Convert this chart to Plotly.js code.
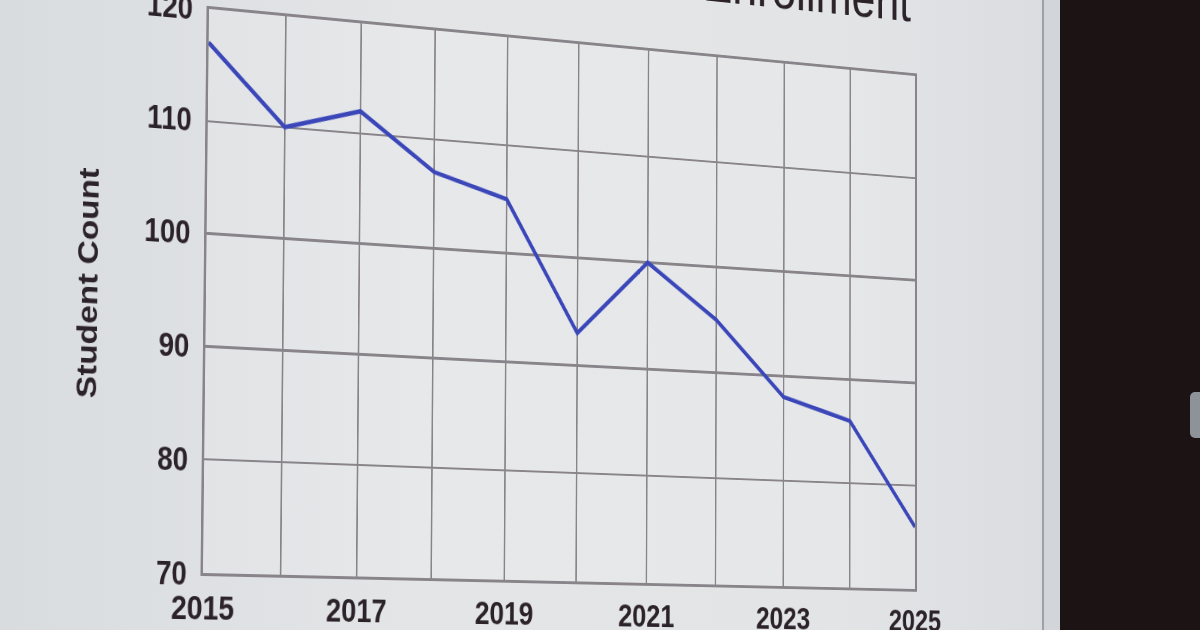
<!DOCTYPE html>
<html>
<head>
<meta charset="utf-8">
<script src="https://cdn.plot.ly/plotly-3.0.1.min.js"></script>
<style>
  html, body { margin:0; padding:0; width:1200px; height:630px; overflow:hidden; }
  body { position:relative; background:linear-gradient(to right, #d9dcdf 0%, #e3e5e7 35%, #e2e4e6 70%, #d5d8dc 100%); }
  #screenEdge { position:absolute; left:1042px; top:0; width:2px; height:630px; background:#9ea1a6; }
  #strip { position:absolute; left:1044px; top:0; width:16px; height:630px; background:#d2d6da; }
  #dark { position:absolute; left:1060px; top:0; width:140px; height:630px; background:#1b1314; }
  #tab { position:absolute; left:1190px; top:392px; width:20px; height:46px; border-radius:5px; background:#8e939a; }
  #chart { position:absolute; left:0; top:0; transform-origin:0 0; }
</style>
</head>
<body>
<div id="screenEdge"></div>
<div id="strip"></div>
<div id="dark"></div>
<div id="tab"></div>
<div id="chart"></div>
<script>
// ---- data ----
const years = [2015, 2016, 2017, 2018, 2019, 2020, 2021, 2022, 2023, 2024, 2025];
const studentCount = [117, 110, 112, 107, 105, 93, 100, 95, 88, 86, 76];
const xTickLabels = ['2015', '', '2017', '', '2019', '', '2021', '', '2023', '', '2025'];
const yTicks = [70, 80, 90, 100, 110, 120];
const chartTitle = 'Student Enrollment';
const yTitle = 'Student Count';

// ---- flat chart geometry ----
const W = 1300, H = 790;
const M = {l: 210, r: 150, t: 120, b: 106};
const plotL = M.l, plotR = W - M.r, plotT = M.t, plotB = H - M.b;

const ink = '#2b2329';
const grid = '#88848a';

const trace = {
  x: years, y: studentCount, type: 'scatter', mode: 'lines',
  line: {color: '#3b47b9', width: 4.5},
  hoverinfo: 'skip'
};

const layout = {
  width: W, height: H,
  margin: M,
  paper_bgcolor: 'rgba(0,0,0,0)',
  plot_bgcolor: 'rgba(255,255,255,0.12)',
  showlegend: false,
  title: {
    text: chartTitle,
    font: {family: 'Liberation Sans, Arial, sans-serif', size: 62, color: ink},
    xref: 'paper', x: 1, xanchor: 'right',
    yref: 'paper', y: 1, yanchor: 'bottom',
    pad: {b: 60, r: 6}
  },
  xaxis: {
    range: [2015, 2025],
    tickvals: years, ticktext: xTickLabels,
    showgrid: true, gridcolor: grid, gridwidth: 2.3,
    showline: true, linecolor: grid, linewidth: 2.8, mirror: true,
    zeroline: false, ticks: '', ticklabelstandoff: 2,
    tickfont: {family: 'Liberation Sans, Arial, sans-serif', size: 34, color: ink, weight: 'bold'}
  },
  yaxis: {
    range: [70, 120],
    tickvals: yTicks,
    showgrid: true, gridcolor: grid, gridwidth: 2.3,
    showline: true, linecolor: grid, linewidth: 2.8, mirror: true,
    zeroline: false, ticks: '', ticklabelstandoff: 10,
    tickfont: {family: 'Liberation Sans, Arial, sans-serif', size: 33, color: ink, weight: 'bold'},
    title: {
      text: yTitle, standoff: 44,
      font: {family: 'Liberation Sans, Arial, sans-serif', size: 33, color: ink, weight: 'bold'}
    }
  }
};

// ---- perspective (projected-screen photo) ----
function solve(A, b) {
  const n = b.length;
  for (let i = 0; i < n; i++) A[i] = A[i].concat([b[i]]);
  for (let c = 0; c < n; c++) {
    let p = c;
    for (let r = c + 1; r < n; r++) if (Math.abs(A[r][c]) > Math.abs(A[p][c])) p = r;
    [A[c], A[p]] = [A[p], A[c]];
    for (let r = 0; r < n; r++) {
      if (r === c) continue;
      const f = A[r][c] / A[c][c];
      for (let k = c; k <= n; k++) A[r][k] -= f * A[c][k];
    }
  }
  return A.map((row, i) => row[n] / row[i]);
}
function homography(src, dst) {
  const A = [], b = [];
  for (let i = 0; i < 4; i++) {
    const [x, y] = src[i], [u, v] = dst[i];
    A.push([x, y, 1, 0, 0, 0, -u * x, -u * y]); b.push(u);
    A.push([0, 0, 0, x, y, 1, -v * x, -v * y]); b.push(v);
  }
  return solve(A, b);
}
const src = [[plotL, plotT], [plotR, plotT], [plotL, plotB], [plotR, plotB]];
const dst = [[209, 9], [915, 76], [203, 573], [915, 589]];
const h = homography(src, dst);
const el = document.getElementById('chart');
el.style.width = W + 'px';
el.style.height = H + 'px';
el.style.transform = `matrix3d(${h[0]},${h[3]},0,${h[6]},${h[1]},${h[4]},0,${h[7]},0,0,1,0,${h[2]},${h[5]},0,1)`;

Plotly.newPlot(el, [trace], layout, {staticPlot: true, displayModeBar: false});
</script>
</body>
</html>
